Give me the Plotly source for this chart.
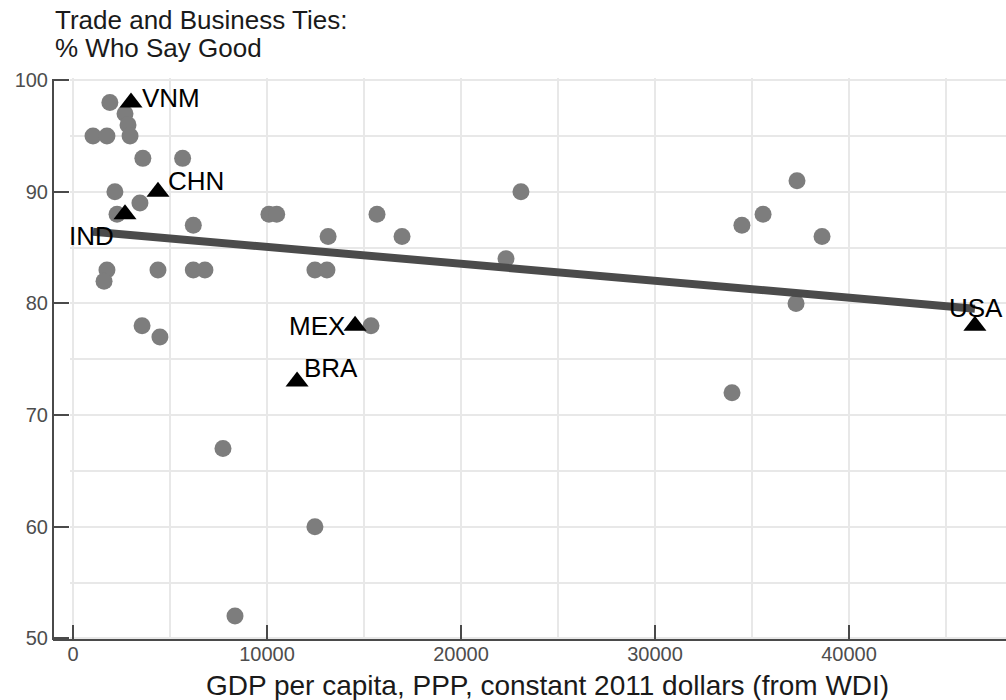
import numpy as np
import plotly.graph_objects as go

# GDP per capita (PPP, constant 2011 $) and % saying trade ties are good
other_gdp = [1900, 1030, 1750, 2680, 2835, 2940, 3600, 5650, 2160, 3450, 2270, 6200,
             1750, 1600, 4380, 6200, 6800, 3560, 4480, 7730, 12470, 8350,
             10100, 10500, 13150, 12470, 13090, 15670, 16960, 23090, 22320, 15360,
             34480, 35570, 37320, 38610, 37270, 33970]
other_pct = [98, 95, 95, 97, 96, 95, 93, 93, 90, 89, 88, 87,
             83, 82, 83, 83, 83, 78, 77, 67, 60, 52,
             88, 88, 86, 83, 83, 88, 86, 90, 84, 78,
             87, 88, 91, 86, 80, 72]

# Highlighted countries
hl_codes = ["VNM", "CHN", "IND", "MEX", "BRA", "USA"]
hl_gdp = [2990, 4380, 2680, 14540, 11550, 46490]
hl_pct = [98, 90, 88, 78, 73, 78]

# Tick values
x_ticks = [0, 10000, 20000, 30000, 40000]
y_ticks = [50, 60, 70, 80, 90, 100]

# Label placement (anchor, x shift px, y shift px)
label_style = {
    "VNM": ("left", 9, 5),
    "CHN": ("left", 8, 11),
    "IND": ("right", -9, -22),
    "MEX": ("right", -8, 0),
    "BRA": ("left", 5, 14),
    "USA": ("right", 30, 18),
}

FONT = "Liberation Sans, Arial, sans-serif"
W, H = 1006, 700
ML, MR, MT, MB = 70, 0, 78, 60
PW = W - ML - MR
PH = H - MT - MB
AXIS_COLOR = "#4a4a4a"

# Linear fit over all countries
all_x = np.array(other_gdp + hl_gdp, dtype=float)
all_y = np.array(other_pct + hl_pct, dtype=float)
slope, intercept = np.polyfit(all_x, all_y, 1)
fit_x = np.array([all_x.min(), all_x.max()])
fit_y = intercept + slope * fit_x

fig = go.Figure()
fig.add_trace(go.Scatter(
    x=other_gdp, y=other_pct, mode="markers",
    marker=dict(symbol="circle", size=17, color="#7d7d7d"),
    showlegend=False, hoverinfo="skip"))
fig.add_trace(go.Scatter(
    x=fit_x, y=fit_y, mode="lines",
    line=dict(color="#4b4b4b", width=8),
    showlegend=False, hoverinfo="skip"))
fig.add_trace(go.Scatter(
    x=hl_gdp, y=hl_pct, mode="markers",
    marker=dict(symbol="triangle-up", size=20, color="black"),
    showlegend=False, hoverinfo="skip"))

for code, gx, gy in zip(hl_codes, hl_gdp, hl_pct):
    anchor, dx, dy = label_style[code]
    fig.add_annotation(x=gx, y=gy, text=code, showarrow=False,
                       xanchor=anchor, yanchor="middle", xshift=dx, yshift=dy,
                       font=dict(family=FONT, size=26, color="black"))

off = 17 / PW
# Axis lines set slightly apart from the panel, as the ticks reach out to them
fig.add_shape(type="line", xref="x domain", yref="y domain",
              x0=-off, x1=-off, y0=0, y1=(100 - 49.85) / (100.2 - 49.85),
              line=dict(color=AXIS_COLOR, width=2), layer="above")
fig.add_shape(type="line", xref="x domain", yref="y domain",
              x0=-off, x1=1, y0=0, y1=0,
              line=dict(color=AXIS_COLOR, width=2), layer="above")
# Upward x ticks rising from the bottom axis line
for xv in x_ticks:
    fig.add_shape(type="line", xref="x", yref="y domain",
                  x0=xv, x1=xv, y0=0, y1=15 / PH,
                  line=dict(color=AXIS_COLOR, width=2), layer="above")


def py(px):
    """Pixel row to paper y coordinate."""
    return (MT + PH - px) / PH


for txt, row in [("Trade and Business Ties:", 20), ("% Who Say Good", 48)]:
    fig.add_annotation(xref="paper", yref="paper", x=(53 - ML) / PW, y=py(row),
                       xanchor="left", yanchor="middle", showarrow=False, text=txt,
                       font=dict(family=FONT, size=26, color="#1a1a1a"))
fig.add_annotation(xref="paper", yref="paper", x=(547 - ML) / PW, y=py(685),
                   xanchor="center", yanchor="middle", showarrow=False,
                   text="GDP per capita, PPP, constant 2011 dollars (from WDI)",
                   font=dict(family=FONT, size=28, color="#1a1a1a"))

grid = "#e8e8e8"
fig.update_layout(
    width=W, height=H,
    margin=dict(l=ML, r=MR, t=MT, b=MB, pad=0),
    paper_bgcolor="white", plot_bgcolor="white",
    font=dict(family=FONT),
    xaxis=dict(range=[-155, 48093], tickvals=x_ticks, ticktext=[str(v) for v in x_ticks],
               ticks="", showline=False, zeroline=False,
               showgrid=True, gridcolor=grid, gridwidth=1.5,
               minor=dict(dtick=5000, tick0=0, showgrid=True, gridcolor=grid, gridwidth=1.5),
               tickfont=dict(family=FONT, size=20, color="#4d4d4d")),
    yaxis=dict(range=[49.85, 100.2], tickvals=y_ticks, ticktext=[str(v) for v in y_ticks],
               ticks="outside", ticklen=17, tickwidth=2, tickcolor=AXIS_COLOR,
               showline=False, zeroline=False,
               showgrid=True, gridcolor=grid, gridwidth=1.5,
               minor=dict(dtick=5, tick0=50, showgrid=True, gridcolor=grid, gridwidth=1.5),
               tickfont=dict(family=FONT, size=20, color="#4d4d4d")),
)

fig.write_html("out.html")
